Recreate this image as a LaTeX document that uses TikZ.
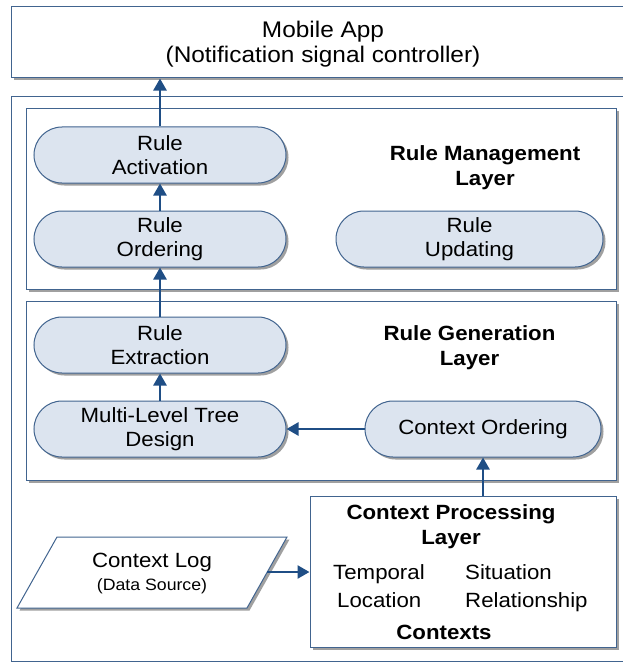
\documentclass[tikz,border=0pt]{standalone}
\usepackage{fontspec}
\setmainfont{Liberation Sans}[FakeStretch=1.08]
\usetikzlibrary{arrows.meta,shadows,shapes.misc}
\definecolor{bord}{HTML}{41648F}
\definecolor{arr}{HTML}{1F4E85}
\definecolor{pillfill}{HTML}{DCE4EF}
\definecolor{shad}{HTML}{A0A0A0}
\tikzset{
  shd/.style={drop shadow={shadow xshift=2.5bp, shadow yshift=-2.5bp, fill=shad, opacity=1}},
  layerbox/.style={draw=bord, line width=1bp, fill=white, shd, inner sep=0pt},
  pill/.style={draw=bord, line width=1bp, fill=pillfill, rounded rectangle, shd,
    minimum width=252bp, minimum height=56bp, inner sep=0pt, align=center,
    font=\fontsize{20.6bp}{24bp}\selectfont},
  conn/.style={draw=arr, line width=2.5bp, -{Triangle[length=12bp,width=13bp]}},
  txt/.style={inner sep=0pt, font=\fontsize{20.6bp}{25bp}\selectfont},
  ttl/.style={inner sep=0pt, align=center, font=\fontsize{20.6bp}{25bp}\selectfont\bfseries},
}
\begin{document}
\begin{tikzpicture}[x=1bp,y=-1bp]
\clip (0,0) rectangle (623,662);
\fill[white] (0,0) rectangle (623,662);

% outer containers
\node[layerbox, minimum width=611bp, minimum height=71bp] (top) at (317.5,42.5) {};
\node[txt, align=center, font=\fontsize{22.6bp}{25bp}\selectfont] (toptext) at (323,44.5) {Mobile App\\(Notification signal controller)};
\node[draw=bord, line width=1bp, fill=white, minimum width=611bp, minimum height=564bp, inner sep=0pt] (outer) at (317.5,379) {};

% layers
\node[layerbox, minimum width=589bp, minimum height=180bp] (rml) at (321.5,199) {};
\node[layerbox, minimum width=589bp, minimum height=179bp] (rgl) at (321.5,390.5) {};
\node[layerbox, minimum width=306bp, minimum height=151bp] (cp) at (463,571.5) {};

% titles
\node[ttl] (rmt) at (485,168) {Rule Management\\Layer};
\node[ttl] (rgt) at (469.5,348) {Rule Generation\\Layer};
\node[ttl] (cpt) at (451,527) {Context Processing\\Layer};

% pills
\node[pill] (ra) at (160,155) {Rule\\Activation};
\node[pill] (ro) at (160,239) {Rule\\Ordering};
\node[pill, minimum width=267bp] (ru) at (469.5,239) {Rule\\Updating};
\node[pill] (re) at (160,345) {Rule\\Extraction};
\node[pill] (ml) at (160,429) {Multi-Level Tree\\Design};
\node[pill, minimum width=236bp] (co) at (483,429) {Context Ordering};

% contexts
\node[txt, anchor=base west] (tem) at (333,579) {Temporal};
\node[txt, anchor=base west] (sit) at (465,579) {Situation};
\node[txt, anchor=base west] (loc) at (337,607) {Location};
\node[txt, anchor=base west] (rel) at (465,607) {Relationship};
\node[ttl] (ctx) at (444,632) {Contexts};

% context log (parallelogram)
\draw[draw=bord, line width=1bp, fill=white, shd] (57,537) -- (287,537) -- (247,608) -- (17,608) -- cycle;
\node[txt, align=center] (log) at (152,573) {Context Log\\[-2bp]{\fontsize{16.4bp}{19bp}\selectfont (Data Source)}};
\coordinate (logE) at (267,572);

% connectors
\draw[conn] (ra.north) -- (ra.north |- top.south);
\draw[conn] (ro.north) -- (ra.south);
\draw[conn] (re.north) -- (ro.south);
\draw[conn] (ml.north) -- (re.south);
\draw[conn] (co.west) -- (ml.east);
\draw[conn] (cp.north -| co.south) -- (co.south);
\draw[conn] (logE) -- (cp.west |- logE);
\end{tikzpicture}
\end{document}
